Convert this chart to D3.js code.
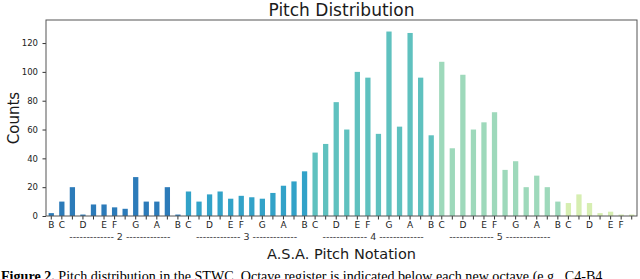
<!DOCTYPE html>
<html>
<head>
<meta charset="utf-8">
<script src="https://cdn.jsdelivr.net/npm/d3@7"></script>
<style>
  body { margin: 0; background: #fff; }
  svg { display: block; }
</style>
</head>
<body>
<div id="chart"></div>
<script>
// pitches from B1 up to F#6, one bar per semitone
const pitches = [
  'B1',
  'C2','C#2','D2','D#2','E2','F2','F#2','G2','G#2','A2','A#2','B2',
  'C3','C#3','D3','D#3','E3','F3','F#3','G3','G#3','A3','A#3','B3',
  'C4','C#4','D4','D#4','E4','F4','F#4','G4','G#4','A4','A#4','B4',
  'C5','C#5','D5','D#5','E5','F5','F#5','G5','G#5','A5','A#5','B5',
  'C6','C#6','D6','D#6','E6','F6','F#6'
];
const counts = [
  2,
  10, 20, 1, 8, 8, 6, 5, 27, 10, 10, 20, 1,
  17, 10, 15, 17, 12, 14, 13, 12, 16, 21, 24, 31,
  44, 50, 79, 60, 100, 96, 57, 128, 62, 127, 96, 56,
  107, 47, 98, 60, 65, 72, 32, 38, 20, 28, 20, 10,
  9, 15, 9, 2, 3, 1, 1
];
const yTicks = [0, 20, 40, 60, 80, 100, 120];
const octaveLabels = ['2', '3', '4', '5'];

const title = 'Pitch Distribution';
const xTitle = 'A.S.A. Pitch Notation';
const yTitle = 'Counts';
const captionBold = 'Figure 2.';
const captionText = ' Pitch distribution in the STWC. Octave register is indicated below each new octave (e.g., C4-B4';

// colour per octave (octave 1 shares the darkest blue)
const octaveColors = {1:'#2c7bb9', 2:'#2c7bb9', 3:'#32a2c8', 4:'#5fc1bf', 5:'#9ed9bb', 6:'#d6eeb1'};

const width = 640, height = 279;
const margin = {left: 46, right: 3, top: 20, bottom: 63};

const octaveOf = p => +p.slice(-1);
const noteOf = p => p.slice(0, -1);

const svg = d3.select('#chart').append('svg')
  .attr('width', width)
  .attr('height', height)
  .style('font-family', '"DejaVu Sans", sans-serif');

const x = d3.scaleBand()
  .domain(pitches)
  .range([margin.left, width - margin.right])
  .paddingInner(0.5)
  .paddingOuter(0.25);

const y = d3.scaleLinear()
  .domain([0, 136])
  .range([height - margin.bottom, margin.top]);

// bars
svg.append('g')
  .selectAll('rect')
  .data(pitches)
  .join('rect')
  .attr('x', d => x(d))
  .attr('width', x.bandwidth())
  .attr('y', (d, i) => y(counts[i]))
  .attr('height', (d, i) => y(0) - y(counts[i]))
  .attr('fill', d => octaveColors[octaveOf(d)]);

// x axis: a tick for every semitone, labels only on natural notes
const xAxis = d3.axisBottom(x)
  .tickSize(3.5)
  .tickPadding(2.5)
  .tickFormat(d => d.includes('#') ? '' : noteOf(d));

svg.append('g')
  .attr('transform', `translate(0,${y(0)})`)
  .call(xAxis)
  .call(g => g.select('.domain').remove())
  .call(g => g.selectAll('line').attr('stroke', '#333'))
  .call(g => g.selectAll('text').attr('fill', '#222').style('font-size', '9px').style('font-family', '"DejaVu Sans", sans-serif'));

// y axis
const yAxis = d3.axisLeft(y)
  .tickValues(yTicks)
  .tickSize(3.5)
  .tickPadding(4.5);

svg.append('g')
  .attr('transform', `translate(${margin.left},0)`)
  .call(yAxis)
  .call(g => g.select('.domain').remove())
  .call(g => g.selectAll('line').attr('stroke', '#333'))
  .call(g => g.selectAll('text').attr('fill', '#222').style('font-size', '8.5px').style('font-family', '"DejaVu Sans", sans-serif'));

// frame
svg.append('rect')
  .attr('x', margin.left)
  .attr('y', margin.top)
  .attr('width', width - margin.right - margin.left)
  .attr('height', y(0) - margin.top)
  .attr('fill', 'none')
  .attr('stroke', '#555')
  .attr('stroke-width', 1);

// octave register marks under each octave
const dashes = '-------------';
svg.append('g')
  .selectAll('text')
  .data(octaveLabels)
  .join('text')
  .attr('x', o => {
    const inOct = pitches.filter(p => octaveOf(p) === +o);
    return (x(inOct[0]) + x(inOct[inOct.length - 1]) + x.bandwidth()) / 2;
  })
  .attr('y', 239.5)
  .attr('text-anchor', 'middle')
  .attr('fill', '#333')
  .style('font-size', '9.5px')
  .text(o => `${dashes} ${o} ${dashes}`);

// titles
svg.append('text')
  .attr('x', (margin.left + width - margin.right) / 2)
  .attr('y', 16)
  .attr('text-anchor', 'middle')
  .attr('fill', '#1a1a1a')
  .style('font-size', '17px')
  .text(title);

svg.append('text')
  .attr('x', (margin.left + width - margin.right) / 2)
  .attr('y', 259)
  .attr('text-anchor', 'middle')
  .attr('fill', '#1a1a1a')
  .style('font-size', '14.5px')
  .text(xTitle);

svg.append('text')
  .attr('transform', `translate(18.5,${(margin.top + y(0)) / 2}) rotate(-90)`)
  .attr('text-anchor', 'middle')
  .attr('fill', '#1a1a1a')
  .style('font-size', '15px')
  .text(yTitle);

// paper caption, cut off at the bottom edge as in the source
const cap = svg.append('text')
  .attr('x', 1)
  .attr('y', 281)
  .attr('fill', '#000')
  .style('font-family', '"Liberation Serif", "Times New Roman", serif')
  .style('font-size', '14.1px');
cap.append('tspan').style('font-weight', 'bold').text(captionBold);
cap.append('tspan').text(captionText);
</script>
</body>
</html>
